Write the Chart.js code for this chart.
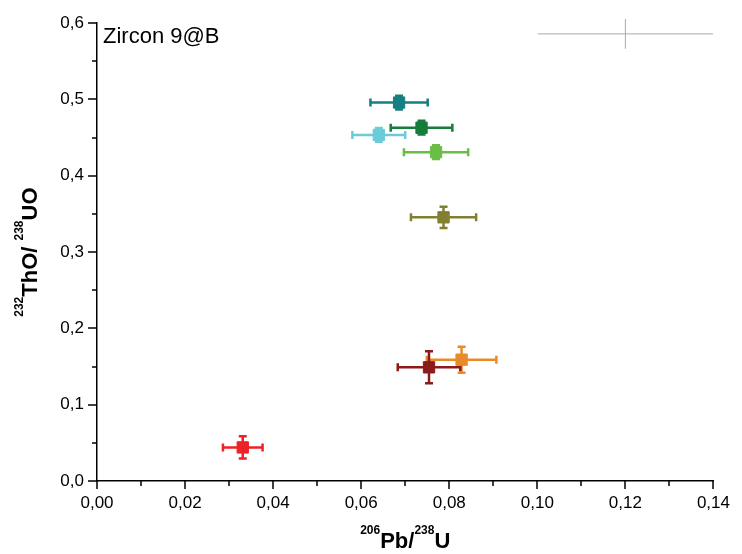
<!DOCTYPE html>
<html>
<head>
<meta charset="utf-8">
<script src="https://cdn.jsdelivr.net/npm/chart.js@4.4.1/dist/chart.umd.min.js"></script>
<style>
  html, body { margin: 0; padding: 0; background: #fff; }
  #wrap { width: 742px; height: 554px; }
</style>
</head>
<body>
<div id="wrap"><canvas id="myChart" width="742" height="554"></canvas></div>
<script>
// Zircon 9@B spots
const spots = ['Spot 1', 'Spot 2', 'Spot 3', 'Spot 4', 'Spot 5', 'Spot 6', 'Spot 7', 'Spot 8'];
const pbU = [0.0686, 0.0737, 0.0640, 0.0770, 0.0787, 0.0828, 0.0754, 0.0331];
const pbUErr = [0.0065, 0.0070, 0.0060, 0.0073, 0.0074, 0.0079, 0.0071, 0.0045];
const thU = [0.496, 0.463, 0.4535, 0.431, 0.3456, 0.159, 0.149, 0.044];
const thUErr = [0.009, 0.009, 0.009, 0.009, 0.014, 0.017, 0.021, 0.0146];
const colors = ['#15807f', '#167c3c', '#6ccbdb', '#6abd45', '#808030', '#e98b2a', '#8b1a1a', '#ec2227'];

// grey error cross in the top right corner
const crossX = [0.120];
const crossY = [0.586];
const crossXErr = [0.0199];
const crossYErr = [0.0196];

const xTickLabels = ['0,00', '0,02', '0,04', '0,06', '0,08', '0,10', '0,12', '0,14'];
const yTickLabels = ['0,0', '0,1', '0,2', '0,3', '0,4', '0,5', '0,6'];

const datasets = spots.map((name, i) => ({
  label: name,
  data: [{ x: pbU[i], y: thU[i], xErr: pbUErr[i], yErr: thUErr[i] }],
  backgroundColor: colors[i],
  borderColor: colors[i],
  borderWidth: 1,
  pointStyle: 'rect',
  pointRadius: 8,
  pointHoverRadius: 8,
  errWidth: 2.5,
  errCap: 4
}));

datasets.push({
  label: 'error',
  data: crossX.map((v, i) => ({ x: v, y: crossY[i], xErr: crossXErr[i], yErr: crossYErr[i] })),
  borderColor: '#aaaaaa',
  pointRadius: 0,
  errWidth: 1,
  errCap: 0
});

// error bars, drawn under the markers
const errorBars = {
  id: 'errorBars',
  beforeDatasetsDraw(chart) {
    const { ctx, scales: { x, y } } = chart;
    ctx.save();
    chart.data.datasets.forEach((ds) => {
      ctx.strokeStyle = ds.borderColor;
      ctx.lineWidth = ds.errWidth;
      ds.data.forEach((p) => {
        const cx = x.getPixelForValue(p.x);
        const cy = y.getPixelForValue(p.y);
        const xl = x.getPixelForValue(p.x - p.xErr);
        const xr = x.getPixelForValue(p.x + p.xErr);
        const yt = y.getPixelForValue(p.y + p.yErr);
        const yb = y.getPixelForValue(p.y - p.yErr);
        const c = ds.errCap;
        ctx.beginPath();
        ctx.moveTo(xl, cy); ctx.lineTo(xr, cy);
        ctx.moveTo(cx, yt); ctx.lineTo(cx, yb);
        if (c) {
          ctx.moveTo(xl, cy - c); ctx.lineTo(xl, cy + c);
          ctx.moveTo(xr, cy - c); ctx.lineTo(xr, cy + c);
          ctx.moveTo(cx - c, yt); ctx.lineTo(cx + c, yt);
          ctx.moveTo(cx - c, yb); ctx.lineTo(cx + c, yb);
        }
        ctx.stroke();
      });
    });
    ctx.restore();
  }
};

// draws "base" text with superscripts, parts = [[text, isSup], ...]
function supText(ctx, parts, size, supSize) {
  const big = 'bold ' + size + 'px "Liberation Sans", Arial, sans-serif';
  const small = 'bold ' + supSize + 'px "Liberation Sans", Arial, sans-serif';
  let w = 0;
  parts.forEach(([t, s]) => { ctx.font = s ? small : big; w += ctx.measureText(t).width; });
  let pos = -w / 2;
  parts.forEach(([t, s]) => {
    ctx.font = s ? small : big;
    ctx.fillText(t, pos, s ? -size * 0.62 : 0);
    pos += ctx.measureText(t).width;
  });
}

// minor/major ticks, axis titles and the sample label
const decorations = {
  id: 'decorations',
  afterDraw(chart) {
    const { ctx, chartArea: a, scales: { x, y } } = chart;
    ctx.save();
    ctx.strokeStyle = '#000';
    ctx.lineWidth = 1.5;
    ctx.beginPath();
    for (let i = 0; i <= 14; i++) {
      const px = Math.round(x.getPixelForValue(i / 100));
      ctx.moveTo(px, a.bottom); ctx.lineTo(px, a.bottom + (i % 2 ? 5 : 8));
    }
    for (let i = 0; i <= 12; i++) {
      const py = Math.round(y.getPixelForValue(i / 20));
      ctx.moveTo(a.left, py); ctx.lineTo(a.left - (i % 2 ? 5 : 9), py);
    }
    ctx.stroke();

    ctx.fillStyle = '#000';
    ctx.textBaseline = 'alphabetic';
    ctx.textAlign = 'left';

    ctx.save();
    ctx.translate((a.left + a.right) / 2, 548);
    supText(ctx, [['206', true], ['Pb/', false], ['238', true], ['U', false]], 22, 12);
    ctx.restore();

    ctx.save();
    ctx.translate(37, (a.top + a.bottom) / 2);
    ctx.rotate(-Math.PI / 2);
    supText(ctx, [['232', true], ['ThO/ ', false], ['238', true], ['UO', false]], 22, 12);
    ctx.restore();

    ctx.font = '22px "Liberation Sans", Arial, sans-serif';
    ctx.fillText('Zircon 9@B', a.left + 6, a.top + 20);
    ctx.restore();
  }
};

new Chart(document.getElementById('myChart'), {
  type: 'scatter',
  data: { datasets: datasets },
  options: {
    responsive: false,
    animation: false,
    layout: { padding: { left: 0, top: 21, right: 27, bottom: 0 } },
    plugins: {
      legend: { display: false },
      tooltip: { enabled: false }
    },
    scales: {
      x: {
        type: 'linear',
        min: 0,
        max: 0.14,
        afterFit: (s) => { s.height = 73; },
        afterBuildTicks: (s) => { s.ticks = xTickLabels.map((t, i) => ({ value: i * 0.02 })); },
        ticks: {
          padding: 12,
          color: '#000',
          font: { family: '"Liberation Sans", Arial, sans-serif', size: 17 },
          maxRotation: 0,
          callback: (v, i) => xTickLabels[i]
        },
        grid: { display: false, drawTicks: false },
        border: { display: true, color: '#000', width: 1.5 }
      },
      y: {
        type: 'linear',
        min: 0,
        max: 0.6,
        afterFit: (s) => { s.width = 97; },
        afterBuildTicks: (s) => { s.ticks = yTickLabels.map((t, i) => ({ value: i * 0.1 })); },
        ticks: {
          padding: 13,
          color: '#000',
          font: { family: '"Liberation Sans", Arial, sans-serif', size: 17 },
          callback: (v, i) => yTickLabels[i]
        },
        grid: { display: false, drawTicks: false },
        border: { display: true, color: '#000', width: 1.5 }
      }
    }
  },
  plugins: [errorBars, decorations]
});
</script>
</body>
</html>
